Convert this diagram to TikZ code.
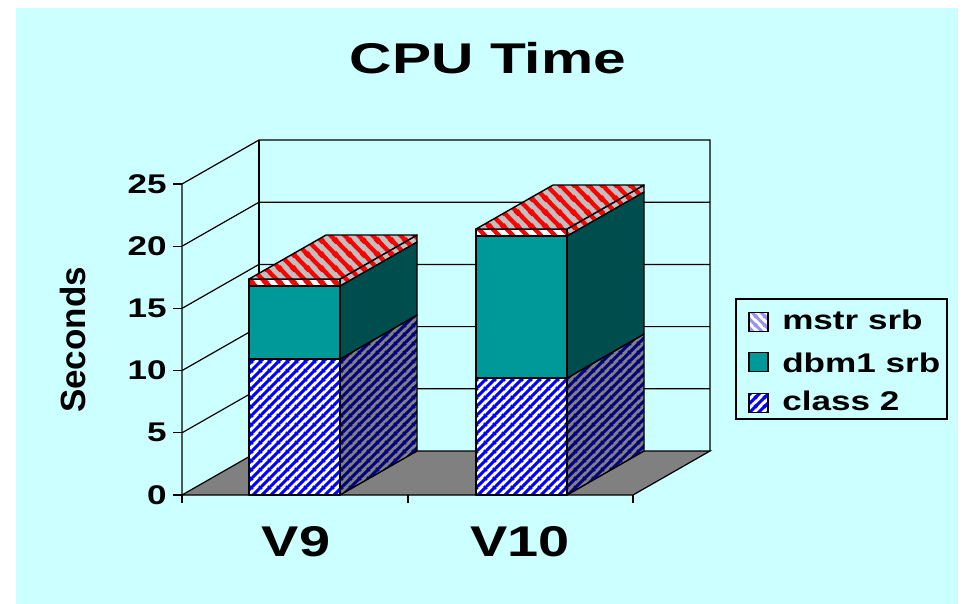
\documentclass[tikz,border=0pt]{standalone}
\usepackage{fontspec}
\setmainfont{Liberation Sans}
\usetikzlibrary{patterns}

\definecolor{bgcyan}{RGB}{204,255,255}
\definecolor{tealfront}{RGB}{0,153,153}
\definecolor{tealside}{RGB}{0,77,77}
\definecolor{floorgray}{RGB}{128,128,128}
\definecolor{topgray}{RGB}{192,192,192}
\definecolor{navy}{RGB}{0,0,128}
\definecolor{paleblue}{RGB}{150,150,235}

\pgfdeclarepatternformonly{nestripes}{\pgfqpoint{0pt}{0pt}}{\pgfqpoint{9pt}{9pt}}{\pgfqpoint{9pt}{9pt}}{
	\pgfsetlinewidth{3.2pt}
	\pgfpathmoveto{\pgfqpoint{-1pt}{-1pt}}\pgfpathlineto{\pgfqpoint{10pt}{10pt}}
	\pgfpathmoveto{\pgfqpoint{-1pt}{8pt}}\pgfpathlineto{\pgfqpoint{1pt}{10pt}}
	\pgfpathmoveto{\pgfqpoint{8pt}{-1pt}}\pgfpathlineto{\pgfqpoint{10pt}{1pt}}
	\pgfusepath{stroke}
}
\pgfdeclarepatternformonly{nwstripes}{\pgfqpoint{0pt}{0pt}}{\pgfqpoint{9pt}{9pt}}{\pgfqpoint{9pt}{9pt}}{
	\pgfsetlinewidth{3.2pt}
	\pgfpathmoveto{\pgfqpoint{-1pt}{10pt}}\pgfpathlineto{\pgfqpoint{10pt}{-1pt}}
	\pgfpathmoveto{\pgfqpoint{-1pt}{1pt}}\pgfpathlineto{\pgfqpoint{1pt}{-1pt}}
	\pgfpathmoveto{\pgfqpoint{8pt}{10pt}}\pgfpathlineto{\pgfqpoint{10pt}{8pt}}
	\pgfusepath{stroke}
}
\pgfdeclarepatternformonly{nwwide}{\pgfqpoint{0pt}{0pt}}{\pgfqpoint{14pt}{14pt}}{\pgfqpoint{14pt}{14pt}}{
	\pgfsetlinewidth{4.5pt}
	\pgfpathmoveto{\pgfqpoint{-1pt}{15pt}}\pgfpathlineto{\pgfqpoint{15pt}{-1pt}}
	\pgfpathmoveto{\pgfqpoint{-2pt}{2pt}}\pgfpathlineto{\pgfqpoint{2pt}{-2pt}}
	\pgfpathmoveto{\pgfqpoint{12pt}{16pt}}\pgfpathlineto{\pgfqpoint{16pt}{12pt}}
	\pgfusepath{stroke}
}

\begin{document}
\begin{tikzpicture}[
	x=1pt, y=-1pt,
	edge/.style={ black, line width=1.4pt, line join=round },
	gridline/.style={ black, line width=1.2pt },
	txt/.style={ inner sep=0pt, xscale=1.3, font=\fontsize{27}{30}\selectfont\bfseries },
	bigtxt/.style={ inner sep=0pt, xscale=1.3, font=\fontsize{43}{48}\selectfont\bfseries },
	clsfront/.style={ edge, preaction={fill=white}, pattern=nestripes, pattern color=blue },
	clsside/.style={ edge, preaction={fill=floorgray}, pattern=nestripes, pattern color=navy },
	dbmfront/.style={ edge, fill=tealfront },
	dbmside/.style={ edge, fill=tealside },
	msfront/.style={ edge, preaction={fill=white}, pattern=nwwide, pattern color=red },
	msside/.style={ edge, preaction={fill=topgray}, pattern=nwwide, pattern color=red },
	swatch/.style={ draw, line width=1.2pt, minimum size=19pt, inner sep=0pt }
]

\fill[bgcyan] (16,8) rectangle (958,604);
\useasboundingbox (0,0) rectangle (963,604);

\filldraw[floorgray, draw=black, line width=1.2pt] (182,495) -- (633,495) -- (710,451) -- (259,451) -- cycle;
\draw[gridline] (182,495) -- (182,184) -- (259,140) -- (710,140) -- (710,451);
\draw[gridline] (259,140) -- (259,451);
\foreach \v in {5,10,15,20}
	\draw[gridline] (182,{495-12.44*\v}) -- (259,{451-12.44*\v}) -- (710,{451-12.44*\v});
\foreach \v in {0,5,...,25} {
	\draw[gridline] (173,{495-12.44*\v}) -- (182,{495-12.44*\v});
	\node at (167,{495-12.44*\v}) (t\v) [txt,anchor=east] {\v};
}
\foreach \x in {182,408,633} \draw[gridline] (\x,495) -- (\x,503);

\foreach \x/\a/\b/\c in {249/10.93/16.8/17.36, 476/9.4/20.82/21.38} {
	\pgfmathsetmacro\ya{495-12.44*\a}
	\pgfmathsetmacro\yb{495-12.44*\b}
	\pgfmathsetmacro\yc{495-12.44*\c}
	\begin{scope}[xshift=\x pt]
		\draw[clsside] (91,495) -- (168,451) -- (168,\ya-44) -- (91,\ya) -- cycle;
		\draw[clsfront] (0,495) rectangle (91,\ya);
		\draw[dbmside] (91,\ya) -- (168,\ya-44) -- (168,\yb-44) -- (91,\yb) -- cycle;
		\draw[dbmfront] (0,\ya) rectangle (91,\yb);
		\draw[msside] (91,\yb) -- (168,\yb-44) -- (168,\yc-44) -- (91,\yc) -- cycle;
		\draw[msfront] (0,\yb) rectangle (91,\yc);
		\draw[msside] (0,\yc) -- (91,\yc) -- (168,\yc-44) -- (77,\yc-44) -- cycle;
	\end{scope}
}

\node at (488,74) (title) [bigtxt,xscale=1.05,anchor=base] {CPU Time};
\node at (72.5,340) (ylabel) [rotate=90,inner sep=0pt,font=\fontsize{35}{40}\selectfont\bfseries] {Seconds};
\node at (296,556) (v9) [bigtxt,anchor=base] {V9};
\node at (520,556) (v10) [bigtxt,anchor=base] {V10};

\node at (841.5,359) (legend) [draw, line width=1.2pt, fill=bgcyan, minimum width=211pt, minimum height=120pt] {};
\node at (758.5,322) (sw1) [swatch, preaction={fill=white}, pattern=nwstripes, pattern color=paleblue] {};
\node at (758.5,362) (sw2) [swatch, fill=tealfront] {};
\node at (758.5,403) (sw3) [swatch, preaction={fill=white}, pattern=nestripes, pattern color=blue] {};
\node at (782,329) (l1) [txt,anchor=base west] {mstr srb};
\node at (782,372) (l2) [txt,anchor=base west] {dbm1 srb};
\node at (782,410) (l3) [txt,anchor=base west] {class 2};

\end{tikzpicture}
\end{document}
